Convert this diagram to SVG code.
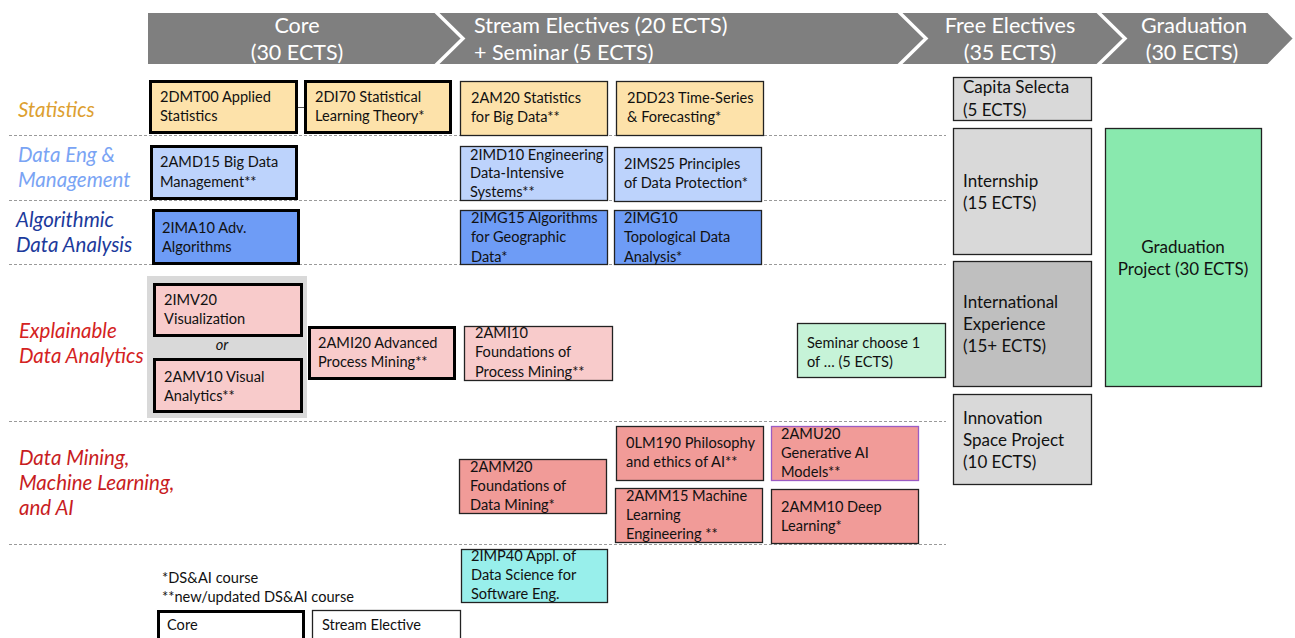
<svg xmlns="http://www.w3.org/2000/svg" width="1295" height="638" viewBox="0 0 1295 638">
<style>
text{font-family:Lato,"Liberation Sans",sans-serif;fill:#111}
.hd{fill:#7f7f7f;stroke:#fff;stroke-width:2}
.ht{fill:#fff;font-size:21.5px}
.lab{font-style:italic;font-size:20.5px}
.bt{font-size:14.6px}
.rt{font-size:17px}
.core{stroke:#000;stroke-width:3}
.se{stroke:#222;stroke-width:1.3}
.sep{stroke:#9a9a9a;stroke-width:1;stroke-dasharray:3 2;fill:none}
.st{fill:#fde2aa}.de{fill:#bdd3fc}.al{fill:#6e9cf6}.ex{fill:#f8cbcb}.dm{fill:#f19b98}
.gr{fill:#d9d9d9}.gd{fill:#bfbfbf}.gg{fill:#89e9ae}.sg{fill:#c6f3d8}.cy{fill:#98efeb}
</style>
<rect width="1295" height="638" fill="#fff"/>
<g id="header">
<polygon class="hd" points="147,12 435,12 462,38.5 435,65 147,65"/>
<polygon class="hd" points="437,12 898,12 925,38.5 898,65 437,65 464,38.5"/>
<polygon class="hd" points="900,12 1097,12 1124,38.5 1097,65 900,65 927,38.5"/>
<polygon class="hd" points="1099,12 1268,12 1294,38.5 1268,65 1099,65 1126,38.5"/>
<text class="ht" x="297" y="33" text-anchor="middle">Core</text>
<text class="ht" x="297" y="60" text-anchor="middle">(30 ECTS)</text>
<text class="ht" x="474" y="33">Stream Electives (20 ECTS)</text>
<text class="ht" x="474" y="60">+ Seminar (5 ECTS)</text>
<text class="ht" x="1010" y="33" text-anchor="middle">Free Electives</text>
<text class="ht" x="1010" y="60" text-anchor="middle">(35 ECTS)</text>
<text class="ht" x="1194" y="33" text-anchor="middle">Graduation</text>
<text class="ht" x="1192" y="60" text-anchor="middle">(30 ECTS)</text>
</g>
<g id="separators">
<line class="sep" x1="9" y1="135.5" x2="946" y2="135.5"/>
<line class="sep" x1="9" y1="200.5" x2="946" y2="200.5"/>
<line class="sep" x1="9" y1="264.5" x2="946" y2="264.5"/>
<line class="sep" x1="9" y1="421.5" x2="946" y2="421.5"/>
<line class="sep" x1="9" y1="544.5" x2="946" y2="544.5"/>
</g>
<g id="stream-labels">
<text class="lab" x="18" y="117" style="fill:#dda030">Statistics</text>
<text class="lab" x="18" y="162" style="fill:#7aa4f4">Data Eng &amp;</text>
<text class="lab" x="18" y="187" style="fill:#7aa4f4">Management</text>
<text class="lab" x="16" y="227" style="fill:#1c3a9c">Algorithmic</text>
<text class="lab" x="16" y="252" style="fill:#1c3a9c">Data Analysis</text>
<text class="lab" x="19" y="338" style="fill:#d42222">Explainable</text>
<text class="lab" x="19" y="363" style="fill:#d42222">Data Analytics</text>
<text class="lab" x="19" y="465" style="fill:#c81c22">Data Mining,</text>
<text class="lab" x="19" y="490" style="fill:#c81c22">Machine Learning,</text>
<text class="lab" x="19" y="515" style="fill:#c81c22">and AI</text>
</g>
<g id="connectors">
<line x1="298" y1="107.5" x2="304" y2="107.5" stroke="#555" stroke-width="1"/>
</g>
<g id="n-2DMT00"><rect class="core st" x="150.5" y="81.5" width="146" height="51"/>
<text class="bt" x="160" y="102">2DMT00 Applied</text><text class="bt" x="160" y="121">Statistics</text></g>
<g id="n-2DI70"><rect class="core st" x="305.5" y="81.5" width="145" height="51"/>
<text class="bt" x="315" y="102">2DI70 Statistical</text><text class="bt" x="315" y="121">Learning Theory*</text></g>
<g id="n-2AM20"><rect class="se st" x="460.5" y="81.5" width="147" height="54"/>
<text class="bt" x="471" y="103">2AM20 Statistics</text><text class="bt" x="471" y="122">for Big Data**</text></g>
<g id="n-2DD23"><rect class="se st" x="616.5" y="81.5" width="147" height="54"/>
<text class="bt" x="627" y="103">2DD23 Time-Series</text><text class="bt" x="627" y="122">&amp; Forecasting*</text></g>
<g id="n-2AMD15"><rect class="core de" x="151.5" y="146.5" width="145" height="52"/>
<text class="bt" x="160" y="167">2AMD15 Big Data</text><text class="bt" x="160" y="187">Management**</text></g>
<g id="n-2IMD10"><rect class="se de" x="460.5" y="146.5" width="147" height="54"/>
<text class="bt" x="470" y="160">2IMD10 Engineering</text><text class="bt" x="470" y="178">Data-Intensive</text><text class="bt" x="470" y="197">Systems**</text></g>
<g id="n-2IMS25"><rect class="se de" x="614.5" y="147.5" width="147" height="54"/>
<text class="bt" x="624" y="169">2IMS25 Principles</text><text class="bt" x="624" y="188">of Data Protection*</text></g>
<g id="n-2IMA10"><rect class="core al" x="153.5" y="210.5" width="145" height="53"/>
<text class="bt" x="162" y="233">2IMA10 Adv.</text><text class="bt" x="162" y="252">Algorithms</text></g>
<g id="n-2IMG15"><rect class="se al" x="460.5" y="210.5" width="147" height="54"/>
<text class="bt" x="471" y="223">2IMG15 Algorithms</text><text class="bt" x="471" y="242">for Geographic</text><text class="bt" x="471" y="262">Data*</text></g>
<g id="n-2IMG10"><rect class="se al" x="614.5" y="210.5" width="147" height="54"/>
<text class="bt" x="624" y="223">2IMG10</text><text class="bt" x="624" y="242">Topological Data</text><text class="bt" x="624" y="262">Analysis*</text></g>
<g id="n-vis-choice"><rect class="gr" x="147" y="276" width="160" height="142"/>
<text x="222" y="350" text-anchor="middle" style="font-size:14.6px;font-style:italic">or</text></g>
<g id="n-2IMV20"><rect class="core ex" x="154.5" y="284.5" width="147" height="51"/>
<text class="bt" x="164" y="305">2IMV20</text><text class="bt" x="164" y="324">Visualization</text></g>
<g id="n-2AMV10"><rect class="core ex" x="154.5" y="359.5" width="147" height="52"/>
<text class="bt" x="164" y="382">2AMV10 Visual</text><text class="bt" x="164" y="401">Analytics**</text></g>
<g id="n-2AMI20"><rect class="core ex" x="309.5" y="327.5" width="145" height="51"/>
<text class="bt" x="318" y="348">2AMI20 Advanced</text><text class="bt" x="318" y="367">Process Mining**</text></g>
<g id="n-2AMI10"><rect class="se ex" x="464.5" y="326.5" width="148" height="54"/>
<text class="bt" x="475" y="338">2AMI10</text><text class="bt" x="475" y="357">Foundations of</text><text class="bt" x="475" y="377">Process Mining**</text></g>
<g id="n-seminar"><rect class="se sg" x="797.5" y="323.5" width="148" height="54"/>
<text class="bt" x="807" y="348">Seminar choose 1</text><text class="bt" x="807" y="367">of … (5 ECTS)</text></g>
<g id="n-2AMM20"><rect class="se dm" x="459.5" y="459.5" width="147" height="54"/>
<text class="bt" x="470" y="472">2AMM20</text><text class="bt" x="470" y="491">Foundations of</text><text class="bt" x="470" y="510">Data Mining*</text></g>
<g id="n-0LM190"><rect class="se dm" x="616.5" y="426.5" width="147" height="54"/>
<text class="bt" x="626" y="448">0LM190 Philosophy</text><text class="bt" x="626" y="467">and ethics of AI**</text></g>
<g id="n-2AMU20"><rect class="dm" x="771.5" y="426.5" width="147" height="54" stroke="#9b5cc4" stroke-width="1.3"/>
<text class="bt" x="781" y="439">2AMU20</text><text class="bt" x="781" y="458">Generative AI</text><text class="bt" x="781" y="477">Models**</text></g>
<g id="n-2AMM15"><rect class="se dm" x="615.5" y="488.5" width="147" height="54"/>
<text class="bt" x="626" y="501">2AMM15 Machine</text><text class="bt" x="626" y="520">Learning</text><text class="bt" x="626" y="539">Engineering **</text></g>
<g id="n-2AMM10"><rect class="se dm" x="771.5" y="489.5" width="147" height="54"/>
<text class="bt" x="781" y="512">2AMM10 Deep</text><text class="bt" x="781" y="531">Learning*</text></g>
<g id="n-2IMP40"><rect class="se cy" x="461.5" y="549.5" width="146" height="53"/>
<text class="bt" x="471" y="561">2IMP40 Appl. of</text><text class="bt" x="471" y="580">Data Science for</text><text class="bt" x="471" y="599">Software Eng.</text></g>
<g id="n-capita"><rect class="se gr" x="953.5" y="77.5" width="138" height="43"/>
<text class="rt" x="963" y="93">Capita Selecta</text><text class="rt" x="963" y="116">(5 ECTS)</text></g>
<g id="n-internship"><rect class="se gr" x="953.5" y="128.5" width="138" height="126"/>
<text class="rt" x="963" y="187">Internship</text><text class="rt" x="963" y="209">(15 ECTS)</text></g>
<g id="n-international"><rect class="se gd" x="953.5" y="261.5" width="138" height="125"/>
<text class="rt" x="963" y="308">International</text><text class="rt" x="963" y="330">Experience</text><text class="rt" x="963" y="352">(15+ ECTS)</text></g>
<g id="n-innovation"><rect class="se gr" x="953.5" y="394.5" width="138" height="90"/>
<text class="rt" x="963" y="424">Innovation</text><text class="rt" x="963" y="446">Space Project</text><text class="rt" x="963" y="468">(10 ECTS)</text></g>
<g id="n-graduation"><rect class="se gg" x="1105.5" y="128.5" width="156" height="258"/>
<text class="rt" x="1183" y="253" text-anchor="middle">Graduation</text><text class="rt" x="1183" y="275" text-anchor="middle">Project (30 ECTS)</text></g>
<g id="legend">
<text class="bt" x="162" y="583">*DS&amp;AI course</text>
<text class="bt" x="162" y="602">**new/updated DS&amp;AI course</text>
<rect class="core" x="158.5" y="611.5" width="145" height="40" fill="#fff"/>
<text class="bt" x="167" y="630">Core</text>
<rect class="se" x="312.5" y="610.5" width="148" height="40" fill="#fff"/>
<text class="bt" x="322" y="630">Stream Elective</text>
</g>
</svg>
